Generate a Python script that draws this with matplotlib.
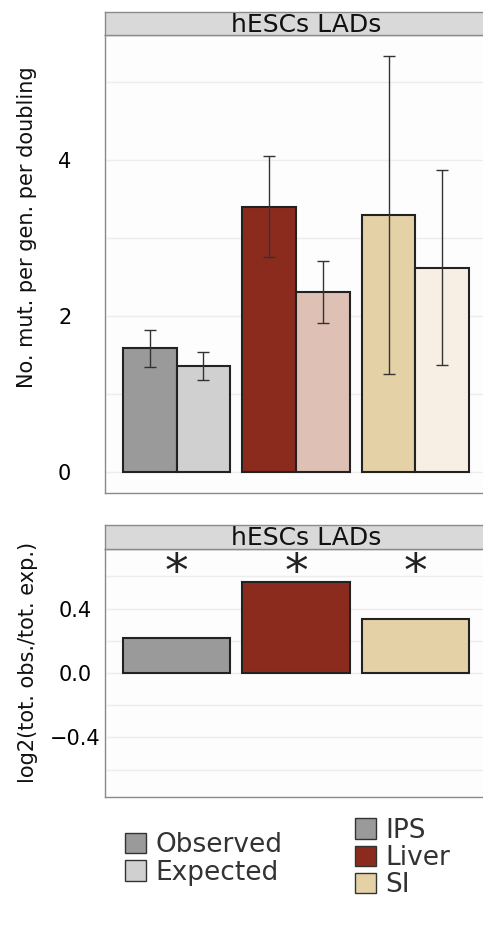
import numpy as np
import matplotlib
matplotlib.use("Agg")
import matplotlib.pyplot as plt
from matplotlib.patches import Patch

plt.rcParams['font.family'] = ['DejaVu Sans']

# data
groups = ["IPS", "Liver", "SI"]
obs = [1.585, 3.40, 3.29]
obs_lo = [1.34, 2.76, 1.26]
obs_hi = [1.82, 4.05, 5.33]
exp_ = [1.36, 2.31, 2.61]
exp_lo = [1.18, 1.91, 1.37]
exp_hi = [1.54, 2.71, 3.87]
log_ratio = [0.219, 0.562, 0.333]
signif = ["*", "*", "*"]

obs_colors = ["#9a9a9a", "#8b2b1e", "#e5d1a6"]
exp_colors = ["#d0d0d0", "#dec0b5", "#f7efe4"]

W, H = 483, 925
fig = plt.figure(figsize=(W / 100, H / 100), dpi=100)
fig.patch.set_facecolor("white")


def fx(px):
    return px / W


def fy(py):
    return 1 - py / H


def style_panel(ax, pad):
    ax.set_facecolor("#fdfdfd")
    for s in ax.spines.values():
        s.set_color("#8a8a8a")
        s.set_linewidth(1.0)
    ax.tick_params(which="both", length=0, labelsize=15, pad=pad)
    ax.grid(True, which="both", axis="y", color="#ededed", linewidth=1.0)
    ax.set_axisbelow(True)
    ax.set_xticks([])
    for lab in ax.get_yticklabels():
        lab.set_horizontalalignment("center")


def strip(top, bottom, label):
    sa = fig.add_axes([fx(105), fy(bottom), fx(487) - fx(105), fy(top) - fy(bottom)])
    sa.set_facecolor("#d9d9d9")
    sa.set_xticks([])
    sa.set_yticks([])
    for s in sa.spines.values():
        s.set_color("#8a8a8a")
        s.set_linewidth(1.0)
    fig.text(fx(306), fy((top + bottom) / 2 + 1), label, ha="center", va="center",
             fontsize=18, color="#111111")


x = np.arange(len(groups))

# top panel
ax1 = fig.add_axes([fx(105), fy(493), fx(487) - fx(105), fy(35) - fy(493)])
ax1.bar(x - 0.225, obs, width=0.45, color=obs_colors, edgecolor="#222222", linewidth=1.5)
ax1.bar(x + 0.225, exp_, width=0.45, color=exp_colors, edgecolor="#222222", linewidth=1.5)
ax1.errorbar(x - 0.225, obs,
             yerr=[np.array(obs) - np.array(obs_lo), np.array(obs_hi) - np.array(obs)],
             fmt="none", ecolor="#333333", elinewidth=1.0, capsize=4.3, capthick=1.0)
ax1.errorbar(x + 0.225, exp_,
             yerr=[np.array(exp_) - np.array(exp_lo), np.array(exp_hi) - np.array(exp_)],
             fmt="none", ecolor="#333333", elinewidth=1.0, capsize=4.3, capthick=1.0)
ax1.set_xlim(-0.6, 2.6)
ax1.set_ylim(-0.269, 5.60)
ax1.set_yticks([0, 2, 4])
ax1.set_yticks([1, 3, 5], minor=True)
style_panel(ax1, 29)
fig.text(fx(27), fy(227), "No. mut. per gen. per doubling", rotation=90,
         ha="center", va="center", fontsize=15, color="#111111")
strip(12, 35, "hESCs LADs")

# bottom panel
ax2 = fig.add_axes([fx(105), fy(797), fx(487) - fx(105), fy(549) - fy(797)])
ax2.bar(x, log_ratio, width=0.9, color=obs_colors, edgecolor="#222222", linewidth=1.5)
ax2.set_xlim(-0.6, 2.6)
ax2.set_ylim(-0.77, 0.77)
ax2.set_yticks([-0.4, 0.0, 0.4])
ax2.set_yticklabels(["\u22120.4", "0.0", "0.4"])
ax2.set_yticks([-0.6, -0.2, 0.2, 0.6], minor=True)
style_panel(ax2, 21.5)
for xi, s in zip(x, signif):
    ax2.text(xi, 0.62, s, ha="center", va="center", fontsize=34, color="#222222")
fig.text(fx(28), fy(662), "log2(tot. obs./tot. exp.)", rotation=90,
         ha="center", va="center", fontsize=15, color="#111111")
strip(525, 549, "hESCs LADs")

# legends
fig.legend(handles=[Patch(facecolor=obs_colors[0], edgecolor="#333333", label="Observed"),
                    Patch(facecolor=exp_colors[0], edgecolor="#333333", label="Expected")],
           loc="center left", bbox_to_anchor=(fx(101), fy(859)), frameon=False,
           fontsize=19, handlelength=0.8, handleheight=0.8, handletextpad=0.35,
           labelspacing=0.05, labelcolor="#333333")
fig.legend(handles=[Patch(facecolor=c, edgecolor="#333333", label=g)
                    for c, g in zip(obs_colors, groups)],
           loc="center left", bbox_to_anchor=(fx(331), fy(858)), frameon=False,
           fontsize=19, handlelength=0.8, handleheight=0.8, handletextpad=0.35,
           labelspacing=0.05, labelcolor="#333333")

fig.savefig("out.png", dpi=100)
